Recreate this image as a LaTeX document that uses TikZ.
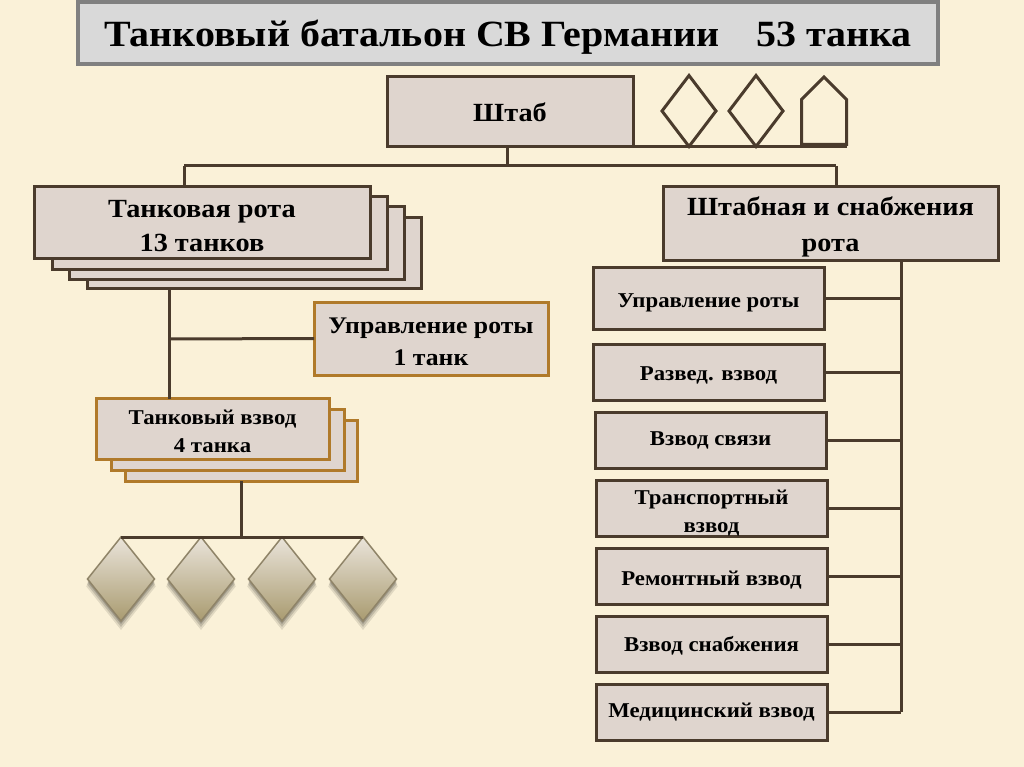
\documentclass[tikz,border=0pt]{standalone}
\usepackage{xcolor}
\usepackage{fontspec}
\setmainfont[FakeStretch=1.08]{Liberation Serif}
\usetikzlibrary{shapes.geometric, shapes.symbols, shadows, positioning}
\definecolor{paper}{HTML}{FAF1D8}
\definecolor{boxfill}{HTML}{DFD5CE}
\definecolor{linebrown}{HTML}{4A3B2C}
\definecolor{gold}{HTML}{B07A2A}
\definecolor{tanktop}{HTML}{EAE4DA}
\definecolor{tankbottom}{HTML}{A99B70}
\definecolor{tankedge}{HTML}{8F8468}
\newcommand{\lift}[1]{\rule{0pt}{#1pt}}

\begin{document}
\begin{tikzpicture}[
    x=1pt, y=-1pt,
    titlebox/.style={rectangle, draw=black!50, line width=4pt, fill=black!15, inner sep=0pt, outer sep=0pt, minimum width=860pt, minimum height=62pt, font=\fontsize{37}{40}\selectfont\bfseries},
    unit/.style={rectangle, draw=linebrown, line width=3pt, fill=boxfill, inner sep=0pt, outer sep=0pt, align=center, font=\fontsize{26.2}{34}\selectfont\bfseries},
    goldunit/.style={unit, draw=gold},
    smallunit/.style={unit, minimum width=231pt, minimum height=56pt, font=\fontsize{21.1}{28}\selectfont\bfseries},
    hqsign/.style={diamond, draw=linebrown, line width=3pt, inner sep=0pt, outer sep=0pt, minimum width=54pt, minimum height=71pt},
    tank/.style={diamond, draw=tankedge, line width=1.5pt, inner sep=0pt, outer sep=0pt, minimum width=67pt, minimum height=84pt, top color=tanktop, bottom color=tankbottom,
        drop shadow={shadow xshift=0pt, shadow yshift=-7pt, shadow scale=1.04, opacity=.10, fill=black},
        drop shadow={shadow xshift=0pt, shadow yshift=-5pt, shadow scale=1.02, opacity=.14, fill=black},
        drop shadow={shadow xshift=0pt, shadow yshift=-3pt, opacity=.18, fill=black}},
    conn/.style={line width=3pt, draw=linebrown}
]
\useasboundingbox (0,0) rectangle (1024,767);
\fill[paper] (0,0) rectangle (1024,767);

\node[titlebox] (title) at (508,33) {\lift{35}Танковый батальон СВ Германии\hspace{1em}53 танка};

% staff and its signs
\node[unit, minimum width=246pt, minimum height=70pt] (staff) at (510,112) {\lift{20}Штаб};
\node[hqsign] (signA) at (689,111) {};
\node[hqsign] (signB) at (756,111) {};
\node[signal, signal to=north, signal pointer angle=90, draw=linebrown, line width=3pt, inner sep=0pt, outer sep=0pt, minimum width=45pt, minimum height=45pt] (signC) at (824,122) {};

% tank company
\node[unit, minimum width=334pt, minimum height=71pt] (coyD) at (254,253) {};
\node[unit, minimum width=335pt, minimum height=72pt] (coyC) at (236.5,243) {};
\node[unit, minimum width=335pt, minimum height=72pt] (coyB) at (219.5,233) {};
\node[unit, minimum width=336pt, minimum height=71pt] (coyA) at (202,222.5) {\lift{24}Танковая рота\\13 танков};

\node[goldunit, minimum width=234pt, minimum height=73pt, font=\fontsize{23.8}{32}\selectfont\bfseries] (coyHq) at (431,338.5) {\lift{22}Управление роты\\1 танк};

% tank platoon
\node[goldunit, minimum width=232pt, minimum height=61pt] (platC) at (241.5,450.5) {};
\node[goldunit, minimum width=233pt, minimum height=61pt] (platB) at (227.5,439.5) {};
\node[goldunit, minimum width=233pt, minimum height=61pt, font=\fontsize{21.1}{28}\selectfont\bfseries] (platA) at (212.5,429) {\lift{19}Танковый взвод\\4 танка};

\node[tank] (tankA) at (121,579) {};
\node[tank] (tankB) at (201,579) {};
\node[tank] (tankC) at (282,579) {};
\node[tank] (tankD) at (363,579) {};

% staff and supply company
\node[unit, minimum width=335pt, minimum height=73pt, font=\fontsize{26.2}{36}\selectfont\bfseries] (supply) at (830.5,223.5) {\lift{26}Штабная и снабжения\\рота};
\node[smallunit, minimum height=62pt] (unitA) at (708.5,298) {\lift{24}Управление роты};
\node[smallunit] (unitB) at (708.5,372) {\lift{20}Развед. взвод};
\node[smallunit] (unitC) at (710.5,440) {Взвод связи};
\node[smallunit] (unitD) at (711.5,508) {\lift{24}Транспортный\\взвод};
\node[smallunit] (unitE) at (711.5,576) {\lift{22}Ремонтный взвод};
\node[smallunit] (unitF) at (711.5,644) {\lift{18}Взвод снабжения};
\node[smallunit] (unitG) at (711.5,712) {Медицинский взвод};

\coordinate (busTop) at (507,166);
\coordinate (busLeft) at (184,166);
\coordinate (busRight) at (836,166);
\coordinate (coyTrunk) at (169,339);
\coordinate (supplyTrunk) at (901,712);

\draw[conn] (staff.south -| busTop) -- (busTop);
\draw[conn] (busLeft) -- (busRight);
\draw[conn] (busLeft) -- (coyA.north -| busLeft);
\draw[conn] (busRight) -- (supply.north -| busRight);
\draw[conn] (staff.south east) -- (staff.south east -| signC.east);

\draw[conn] (coyD.south -| coyTrunk) -- (platA.north -| coyTrunk);
\draw[conn] (coyTrunk) -- (coyHq.west);

\draw[conn] (platC.south) -- (platC.south |- tankA.north);
\draw[conn] (tankA.north) -- (tankD.north);

\draw[conn] (supply.south -| supplyTrunk) -- (supplyTrunk);
\draw[conn] (unitA.east) -- (unitA.east -| supplyTrunk);
\draw[conn] (unitB.east) -- (unitB.east -| supplyTrunk);
\draw[conn] (unitC.east) -- (unitC.east -| supplyTrunk);
\draw[conn] (unitD.east) -- (unitD.east -| supplyTrunk);
\draw[conn] (unitE.east) -- (unitE.east -| supplyTrunk);
\draw[conn] (unitF.east) -- (unitF.east -| supplyTrunk);
\draw[conn] (unitG.east) -- (unitG.east -| supplyTrunk);
\end{tikzpicture}
\end{document}
